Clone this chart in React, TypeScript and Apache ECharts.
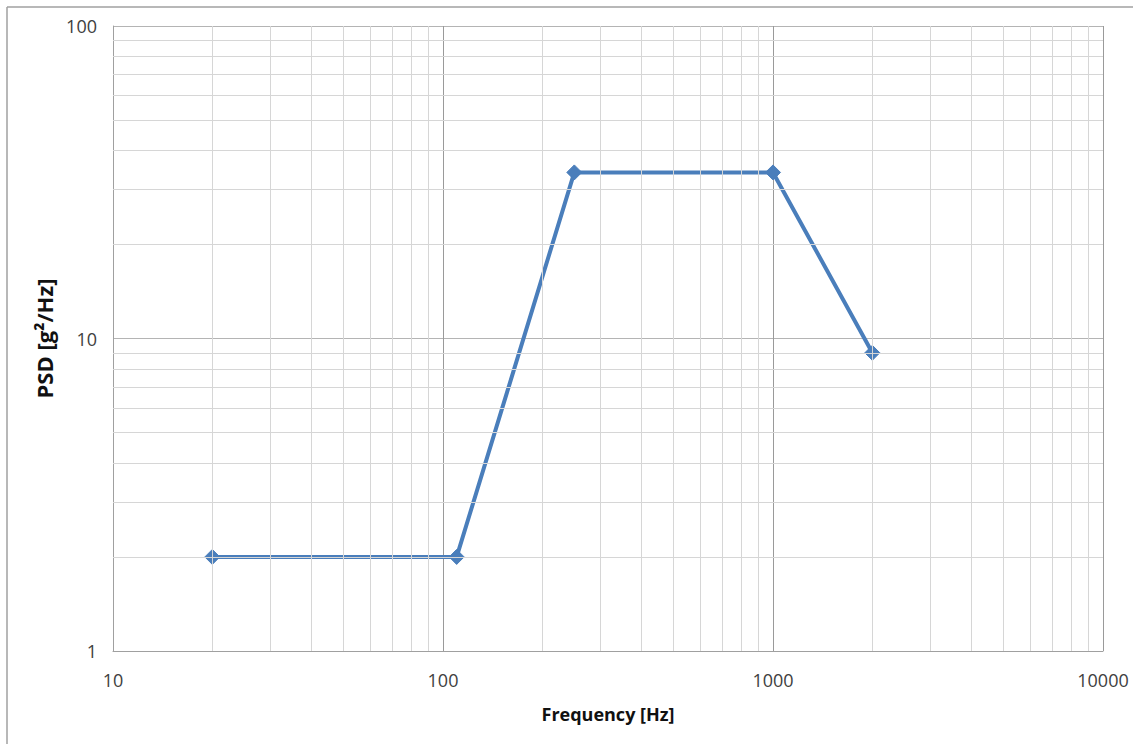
import React, { useEffect, useRef } from "react";
import * as echarts from "echarts";

// PSD profile (frequency in Hz, PSD in g²/Hz)
const frequencies = [20, 110, 250, 1000, 2000];
const psdValues = [2, 2, 34, 34, 9];

// Minor grid positions (log decades 2..9)
const xMinorGrid = [
  20, 30, 40, 50, 60, 70, 80, 90,
  200, 300, 400, 500, 600, 700, 800, 900,
  2000, 3000, 4000, 5000, 6000, 7000, 8000, 9000,
];
const yMinorGrid = [2, 3, 4, 5, 6, 7, 8, 9, 20, 30, 40, 50, 60, 70, 80, 90];

const xTitle = "Frequency [Hz]";
const yTitle = "PSD [g²/Hz]";

export default function App() {
  const ref = useRef<HTMLDivElement>(null);

  useEffect(() => {
    document.body.style.margin = "0";
    if (!ref.current) return;
    const chart = echarts.init(ref.current, null, { renderer: "svg" });
    const font = "'Open Sans', 'Liberation Sans', sans-serif";
    const plain = (v: number) => String(Math.round(v));

    chart.setOption({
      animation: false,
      backgroundColor: "#ffffff",
      textStyle: { fontFamily: font },
      grid: { left: 113, right: 30, top: 26, bottom: 93, containLabel: false },
      xAxis: {
        type: "log",
        logBase: 10,
        min: 10,
        max: 10000,
        name: xTitle,
        nameLocation: "middle",
        nameGap: 54,
        nameTextStyle: { fontFamily: font, fontSize: 18, fontWeight: "bold", color: "#111" },
        axisLine: { show: true, lineStyle: { color: "#a0a0a0", width: 1 } },
        axisTick: { show: false },
        axisLabel: { fontFamily: font, fontSize: 18, color: "#404040", margin: 20, formatter: plain },
        splitLine: { show: true, lineStyle: { color: "#9a9a9a", width: 1 } },
      },
      yAxis: {
        type: "log",
        logBase: 10,
        min: 1,
        max: 100,
        name: yTitle,
        nameLocation: "middle",
        nameGap: 55,
        nameTextStyle: { fontFamily: font, fontSize: 22, fontWeight: "bold", color: "#111" },
        axisLine: { show: true, lineStyle: { color: "#a0a0a0", width: 1 } },
        axisTick: { show: false },
        axisLabel: { fontFamily: font, fontSize: 18, color: "#404040", margin: 16, formatter: plain },
        splitLine: { show: true, lineStyle: { color: "#b4b4b4", width: 1 } },
      },
      graphic: [
        { type: "line", shape: { x1: 7, y1: 7, x2: 1133, y2: 7 }, style: { stroke: "#a0a0a0", lineWidth: 1.5 }, silent: true },
        { type: "line", shape: { x1: 7, y1: 7, x2: 7, y2: 744 }, style: { stroke: "#a0a0a0", lineWidth: 1.5 }, silent: true },
      ],
      series: [
        {
          type: "line",
          data: [],
          z: 1,
          silent: true,
          markLine: {
            silent: true,
            symbol: "none",
            animation: false,
            label: { show: false },
            lineStyle: { color: "#d6d6d6", width: 1, type: "solid" },
            data: [
              ...xMinorGrid.map((v) => ({ xAxis: v })),
              ...yMinorGrid.map((v) => ({ yAxis: v })),
            ],
          },
        },
        {
          type: "line",
          z: 3,
          data: frequencies.map((f, i) => [f, psdValues[i]]),
          symbol: "diamond",
          symbolSize: 15,
          showSymbol: true,
          lineStyle: { color: "#4a7ebb", width: 4 },
          itemStyle: { color: "#4a7ebb", borderColor: "#4a7ebb", borderWidth: 1, opacity: 1 },
        },
      ],
    });

    return () => chart.dispose();
  }, []);

  return <div ref={ref} style={{ width: 1133, height: 744 }} />;
}
